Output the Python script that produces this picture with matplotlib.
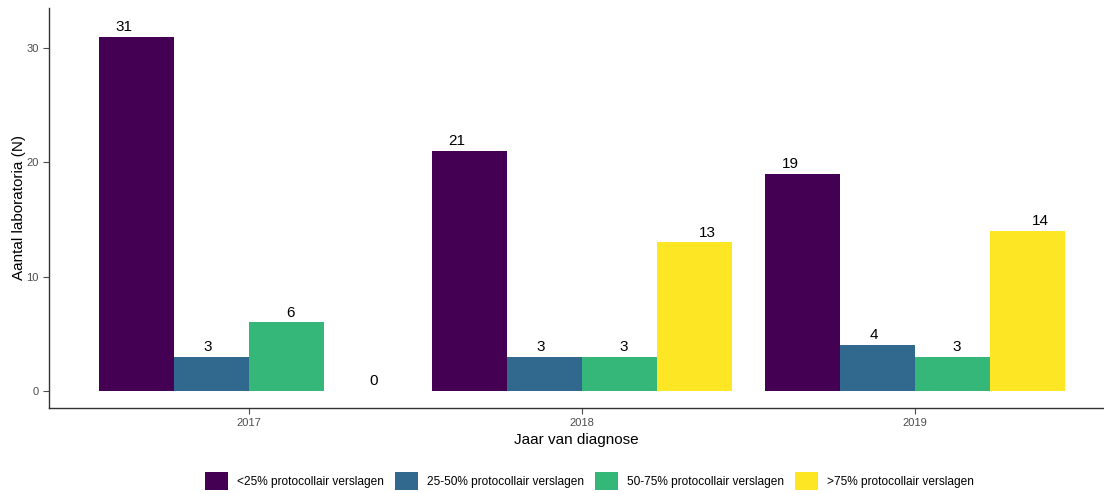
import numpy as np
import matplotlib.pyplot as plt
from matplotlib.patches import Patch

plt.rcParams['font.family'] = ['Liberation Sans', 'DejaVu Sans']

years = ['2017', '2018', '2019']
groups = ['<25% protocollair verslagen', '25-50% protocollair verslagen',
          '50-75% protocollair verslagen', '>75% protocollair verslagen']
values = {
    '<25% protocollair verslagen': [31, 21, 19],
    '25-50% protocollair verslagen': [3, 3, 4],
    '50-75% protocollair verslagen': [6, 3, 3],
    '>75% protocollair verslagen': [0, 13, 14],
}
colors = ['#440154', '#31688E', '#35B779', '#FDE725']

fig = plt.figure(figsize=(11.04, 4.93), dpi=100)
ax = fig.add_axes([0.0444, 0.1724, 0.9556, 0.8114])

x = np.arange(1, len(years) + 1)
n = len(groups)
bw = 0.9 / n
lw = 1.0 / n
for i, g in enumerate(groups):
    vals = values[g]
    offs = (i - (n - 1) / 2)
    ax.bar(x + offs * bw, vals, width=bw, color=colors[i], linewidth=0)
    for xi, v in zip(x, vals):
        ax.annotate(str(v), (xi + offs * lw, v), xytext=(0, 2), textcoords='offset points',
                    ha='center', va='bottom', fontsize=11, color='black')

ax.set_xlim(0.4, 3.567)
ax.set_ylim(-1.5, 33.5)
ax.set_xticks(x)
ax.set_xticklabels(years)
ax.set_yticks([0, 10, 20, 30])
for s in ['top', 'right']:
    ax.spines[s].set_visible(False)
for s in ['left', 'bottom']:
    ax.spines[s].set_color('#333333')
    ax.spines[s].set_linewidth(1.0)
ax.tick_params(axis='both', labelsize=8, colors='#4d4d4d', length=4, width=0.8)
ax.set_xlabel('Jaar van diagnose', fontsize=11, labelpad=3)
ax.set_ylabel('Aantal laboratoria (N)', fontsize=11, labelpad=0)

handles = [Patch(facecolor=c, edgecolor='none') for c in colors]
fig.legend(handles, groups, loc='center', bbox_to_anchor=(0.534, 0.024), ncol=4, frameon=False,
           fontsize=8.6, handlelength=1.9, handleheight=1.9, handletextpad=0.75, columnspacing=0.95)

fig.savefig('out.png', dpi=100)
